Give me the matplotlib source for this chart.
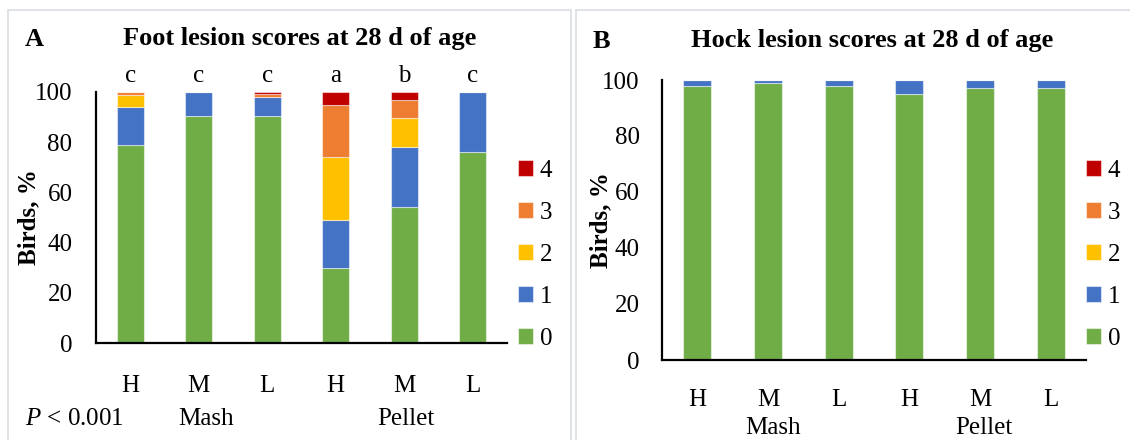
import matplotlib
matplotlib.use("Agg")
import matplotlib.pyplot as plt
from matplotlib.patches import Rectangle
import numpy as np

plt.rcParams['font.family'] = ['Liberation Serif', 'DejaVu Serif']
plt.rcParams['mathtext.fontset'] = 'custom'
plt.rcParams['mathtext.it'] = 'Liberation Serif:italic'
plt.rcParams['mathtext.rm'] = 'Liberation Serif'

# treatments and groups
ticks = ['H', 'M', 'L', 'H', 'M', 'L']
groups = ['Mash', 'Pellet']
scores = ['0', '1', '2', '3', '4']
colors = ['#70AD47', '#4472C4', '#FFC000', '#ED7D31', '#C00000']

# foot lesion scores, % of birds per score
foot0 = [79, 90.5, 90.5, 30, 54, 76]
foot1 = [15, 9.5, 7.5, 19, 24, 24]
foot2 = [5, 0, 0, 25, 11.5, 0]
foot3 = [1, 0, 1.2, 21, 7.5, 0]
foot4 = [0, 0, 0.8, 5, 3, 0]
foot_letters = ['c', 'c', 'c', 'a', 'b', 'c']

# hock lesion scores
hock0 = [98, 99, 98, 95, 97, 97]
hock1 = [2, 1, 2, 5, 3, 3]
hock2 = [0, 0, 0, 0, 0, 0]
hock3 = [0, 0, 0, 0, 0, 0]
hock4 = [0, 0, 0, 0, 0, 0]

W, H = 1130, 440
FS = 18
fig = plt.figure(figsize=(W / 100, H / 100), dpi=100)

# panel frames
fig.patches.append(Rectangle((8 / W, -0.01), 563 / W, (H - 10) / H + 0.01,
                             transform=fig.transFigure, fill=False,
                             edgecolor='#d9dde3', linewidth=1.2))
fig.patches.append(Rectangle((576 / W, -0.01), 560 / W, (H - 10) / H + 0.01,
                             transform=fig.transFigure, fill=False,
                             edgecolor='#d9dde3', linewidth=1.2))


def stacked(ax, series, xpad, ypad):
    x = np.arange(len(ticks))
    bottom = np.zeros(len(ticks))
    bars = []
    for vals, c, lab in zip(series, colors, scores):
        b = ax.bar(x, vals, 0.4, bottom=bottom, color=c, label=lab,
                   edgecolor=(1, 1, 1, 0.5), linewidth=0.8)
        bars.append(b)
        bottom += np.array(vals)
    ax.set_xlim(-0.5, len(ticks) - 0.5)
    ax.set_ylim(0, 100)
    ax.set_yticks(range(0, 101, 20))
    ax.set_xticks(x)
    ax.set_xticklabels(ticks)
    ax.tick_params(length=0, labelsize=FS)
    ax.tick_params(axis='x', pad=xpad)
    ax.tick_params(axis='y', pad=ypad)
    for s in ['top', 'right']:
        ax.spines[s].set_visible(False)
    for s in ['left', 'bottom']:
        ax.spines[s].set_linewidth(1.6)
    return bars


def legend(ax, bars, x0):
    ax.legend(bars[::-1], scores[::-1], loc='upper left',
              bbox_to_anchor=(x0 / W, (H - 160) / H), bbox_transform=fig.transFigure,
              frameon=False, fontsize=FS, handlelength=0.58, handleheight=0.58,
              handletextpad=0.3, labelspacing=0.8, borderaxespad=0, borderpad=0)


# panel A
axA = fig.add_axes([96 / W, (H - 343) / H, 411 / W, 251 / H])
barsA = stacked(axA, [foot0, foot1, foot2, foot3, foot4], 23, 17)
for i, t in enumerate(foot_letters):
    axA.text(i, 106.5, t, ha='center', va='center', fontsize=FS, clip_on=False)
axA.set_ylabel('Birds, %', fontsize=FS, fontweight='bold')
axA.yaxis.set_label_coords(-0.136, 0.5)
legend(axA, barsA, 518)
fig.text(34 / W, 1 - 40 / H, 'A', fontsize=19, fontweight='bold', ha='center', va='center')
fig.text(300 / W, 1 - 38 / H, 'Foot lesion scores at 28 d of age', fontsize=19,
         fontweight='bold', ha='center', va='center')
fig.text(25 / W, 1 - 419 / H, r'$\it{P}$ < 0.001', fontsize=FS, ha='left', va='center')
fig.text(206 / W, 1 - 419 / H, groups[0], fontsize=FS, ha='center', va='center')
fig.text(406 / W, 1 - 419 / H, groups[1], fontsize=FS, ha='center', va='center')

# panel B
axB = fig.add_axes([662 / W, (H - 360) / H, 424 / W, 280 / H])
barsB = stacked(axB, [hock0, hock1, hock2, hock3, hock4], 21, 16)
axB.set_ylabel('Birds, %', fontsize=FS, fontweight='bold')
axB.yaxis.set_label_coords(-0.118, 0.5)
legend(axB, barsB, 1086)
fig.text(601 / W, 1 - 42 / H, 'B', fontsize=19, fontweight='bold', ha='center', va='center')
fig.text(872 / W, 1 - 40 / H, 'Hock lesion scores at 28 d of age', fontsize=19,
         fontweight='bold', ha='center', va='center')
fig.text(773 / W, 1 - 428 / H, groups[0], fontsize=FS, ha='center', va='center')
fig.text(984 / W, 1 - 428 / H, groups[1], fontsize=FS, ha='center', va='center')

fig.savefig('out.png', dpi=100)
